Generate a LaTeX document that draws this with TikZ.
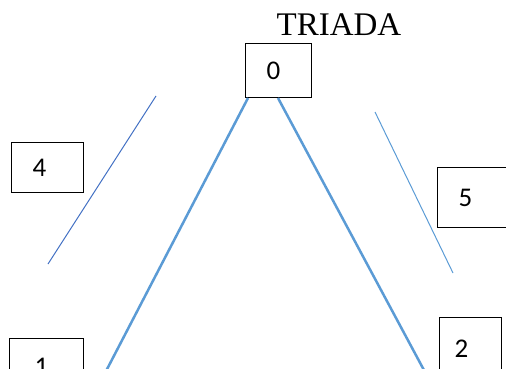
\documentclass[tikz,border=0pt]{standalone}
\usepackage{fontspec}
\setmainfont{Liberation Serif}
\newfontfamily\boxfont{Carlito}
\usetikzlibrary{positioning,calc}
\definecolor{edgeblue}{HTML}{5B9BD5}
\definecolor{darkblue}{HTML}{4472C4}

\begin{document}
\begin{tikzpicture}[
    x=1pt, y=-1pt,
    box/.style={draw, line width=1pt, anchor=north west, align=left, inner xsep=21pt, inner ysep=0pt, font=\boxfont\fontsize{27}{27}\selectfont},
    side/.style={edgeblue, line width=2.5pt},
    hint/.style={line width=1pt},
    ]
\useasboundingbox (0,0) rectangle (506,369);
\clip (0,0) rectangle (506,369);

\node[anchor=base, inner sep=0pt, font=\fontsize{33}{33}\selectfont] at (339,36) (title) {TRIADA};

\node[box, text width=24pt, minimum height=54pt] at (245,43) (zero) {0};
\node[box, text width=30pt, minimum height=50pt] at (11,142) (four) {4};
\node[box, text width=28pt, minimum height=60pt] at (437,167) (five) {5};
\node[box, text width=24pt, inner xsep=25pt, minimum height=57pt] at (9,338) (one) {1};
\node[box, text width=32pt, inner xsep=15pt, minimum height=62pt] at (439,317) (two) {2};

\coordinate (leftend) at (91,400);
\coordinate (rightend) at (440,400);
\draw[side] ($(zero.south west)+(3,0)$) -- (leftend);
\draw[side] ($(zero.south west)+(33,0)$) -- (rightend);

\coordinate (lefttop) at (156,96);
\coordinate (leftbot) at (48,264);
\coordinate (righttop) at (375,112);
\coordinate (rightbot) at (453,273);
\draw[hint, darkblue] (lefttop) -- (leftbot);
\draw[hint, edgeblue] (righttop) -- (rightbot);

\end{tikzpicture}
\end{document}
